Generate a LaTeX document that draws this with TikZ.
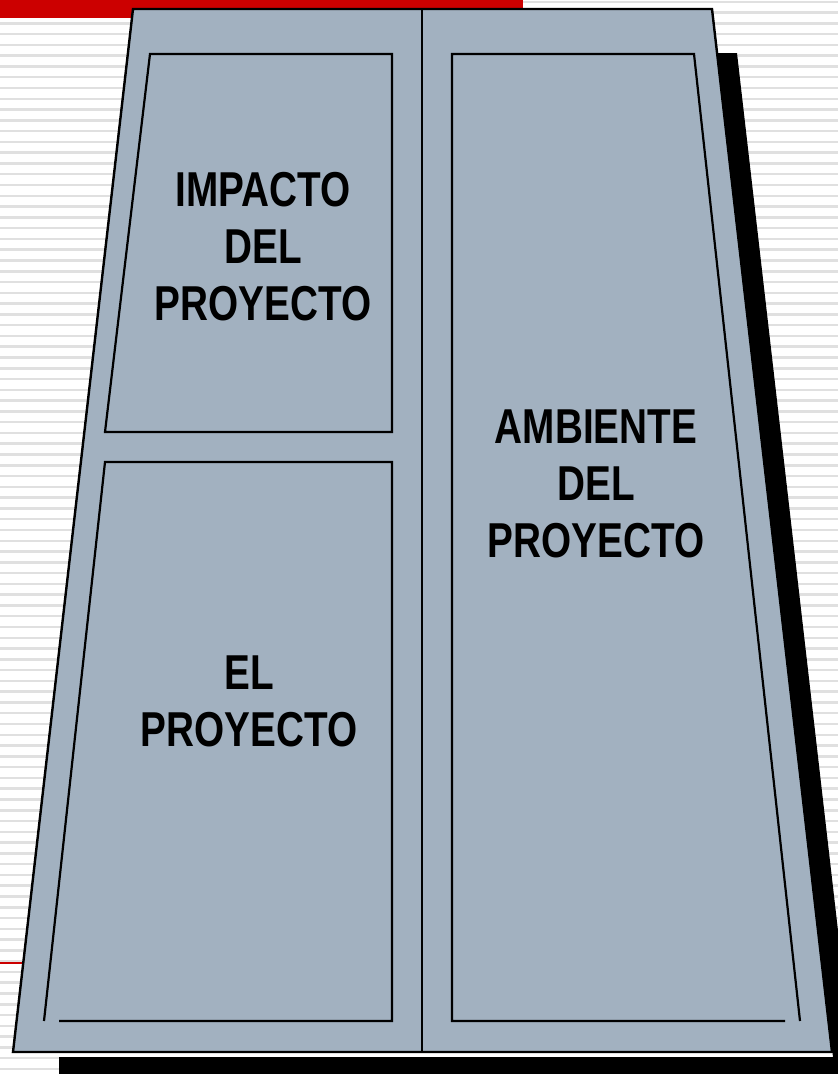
\documentclass[tikz,border=0pt]{standalone}
\usepackage{fontspec}
\newfontfamily\labfont{Liberation Sans}[FakeStretch=0.79]
\definecolor{slate}{HTML}{A2B1C0}
\definecolor{slidered}{HTML}{CC0000}
\definecolor{stripe}{HTML}{E0E0E0}
\tikzset{
  outline/.style={draw=black, line width=2.4pt, line join=miter},
  panel/.style={draw=black, line width=2.2pt, line join=miter},
  label/.style={font=\labfont\bfseries\fontsize{49pt}{57pt}\selectfont, align=center, text=black, inner sep=0pt},
}
\begin{document}
\begin{tikzpicture}[x=1pt, y=-1pt]
\useasboundingbox (0,0) rectangle (838,1074);
% background
\fill[white] (0,0) rectangle (838,1074);
\foreach \i in {0,...,100} {
  \fill[stripe] (0,{0.5+\i*10.78}) rectangle (838,{3+\i*10.78});
}
% red accents
\fill[slidered] (0,0) rectangle (523,18);
\draw[slidered, line width=2pt] (0,962.5) -- (838,962.5);
% shadow
\fill[black] (717,53) -- (737,53) -- (857.5,1100) -- (59,1100) -- (59,1057) -- (833,1057) -- cycle;
% main trapezoid
\path[outline, fill=slate] (133,9) coordinate (tl) -- (712,9) coordinate (tr) -- (832,1052) coordinate (br) -- (13,1052) coordinate (bl) -- cycle;
% divider
\coordinate (dtop) at (422,9);
\coordinate (dbot) at (422,1052);
\draw[panel] (dtop) -- (dbot);
% panels
\draw[panel] (150,54) -- (392,54) -- (392,432) -- (105,432) -- cycle;
\draw[panel] (59,1021) -- (392,1021) -- (392,462) -- (105,462) -- (44,1021);
\draw[panel] (785,1021) -- (452,1021) -- (452,54) -- (694,54) -- (800,1021);
% labels
\node[label] (impacto) at (263,247) {IMPACTO\\DEL\\PROYECTO};
\node[label] (ambiente) at (596,484) {AMBIENTE\\DEL\\PROYECTO};
\node[label] (proyecto) at (249,701) {EL\\PROYECTO};
\end{tikzpicture}
\end{document}
